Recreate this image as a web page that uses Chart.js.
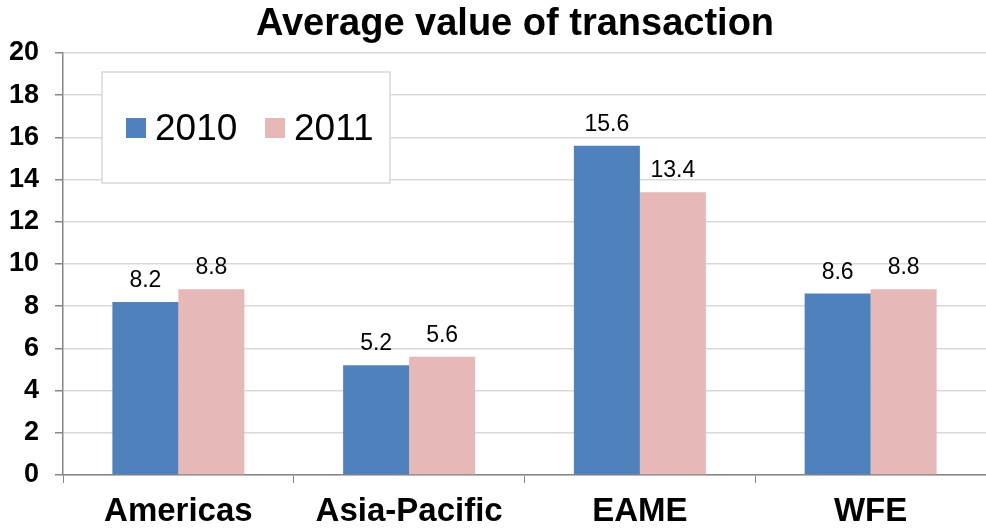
<!DOCTYPE html>
<html>
<head>
<meta charset="utf-8">
<script src="https://cdn.jsdelivr.net/npm/chart.js@4/dist/chart.umd.min.js"></script>
<style>
  html, body { margin: 0; padding: 0; background: #fff; }
  #wrap { width: 986px; height: 528px; position: relative; }
</style>
</head>
<body>
<div id="wrap"><canvas id="c"></canvas></div>
<script>
const categories = ["Americas", "Asia-Pacific", "EAME", "WFE"];
const values2010 = [8.2, 5.2, 15.6, 8.6];
const values2011 = [8.8, 5.6, 13.4, 8.8];
const seriesNames = ["2010", "2011"];
const yTicks = [0, 2, 4, 6, 8, 10, 12, 14, 16, 18, 20];

const FONT = "'Liberation Sans', Arial, sans-serif";

// labels above each bar
const barLabels = {
  id: "barLabels",
  afterDatasetsDraw(chart) {
    const ctx = chart.ctx;
    ctx.save();
    ctx.font = "23px " + FONT;
    ctx.fillStyle = "#000";
    ctx.textAlign = "center";
    ctx.textBaseline = "alphabetic";
    chart.data.datasets.forEach((ds, i) => {
      chart.getDatasetMeta(i).data.forEach((bar, j) => {
        ctx.fillText(ds.data[j].toFixed(1), bar.x, bar.y - 15);
      });
    });
    ctx.restore();
  }
};

// title + boxed legend, drawn by hand
const extras = {
  id: "extras",
  afterDraw(chart) {
    const ctx = chart.ctx;
    ctx.save();
    ctx.font = "bold 38px " + FONT;
    ctx.fillStyle = "#000";
    ctx.textAlign = "center";
    ctx.textBaseline = "alphabetic";
    ctx.fillText("Average value of transaction", 515, 35);

    ctx.fillStyle = "#fff";
    ctx.fillRect(102, 72, 288, 111);
    ctx.strokeStyle = "#d9d9d9";
    ctx.lineWidth = 1.5;
    ctx.strokeRect(102, 72, 288, 111);

    const xs = [126, 265];
    ctx.font = "37px " + FONT;
    ctx.textAlign = "left";
    chart.data.datasets.forEach((ds, i) => {
      ctx.fillStyle = ds.backgroundColor;
      ctx.fillRect(xs[i], 118, 20, 20);
      ctx.fillStyle = "#000";
      ctx.fillText(ds.label, xs[i] + 29, 140);
    });
    ctx.restore();
  }
};

new Chart(document.getElementById("c"), {
  type: "bar",
  data: {
    labels: categories,
    datasets: [
      { label: seriesNames[0], data: values2010, backgroundColor: "#4F81BD" },
      { label: seriesNames[1], data: values2011, backgroundColor: "#E6B9B8" }
    ]
  },
  options: {
    responsive: true,
    maintainAspectRatio: false,
    animation: false,
    layout: { padding: { top: 53, right: 0, left: 0, bottom: 0 } },
    plugins: {
      legend: { display: false },
      title: { display: false },
      tooltip: { enabled: false }
    },
    datasets: {
      bar: { categoryPercentage: 0.572, barPercentage: 1 }
    },
    scales: {
      x: {
        grid: { drawOnChartArea: false, tickLength: 8, color: "#868686", tickColor: "#868686" },
        border: { color: "#868686", width: 1.5 },
        ticks: { color: "#000", font: { family: FONT, size: 33, weight: "bold" }, padding: 9, maxRotation: 0 },
        afterFit(scale) { scale.height = 53; }
      },
      y: {
        min: 0,
        max: 20,
        afterBuildTicks(scale) { scale.ticks = yTicks.map(v => ({ value: v })); },
        grid: { color: "#d9d9d9", tickColor: "#868686", tickLength: 8, lineWidth: 1.5 },
        border: { color: "#868686", width: 1.5 },
        ticks: { color: "#000", font: { family: FONT, size: 27, weight: "bold" }, padding: 16 },
        afterFit(scale) { scale.width = 63; }
      }
    }
  },
  plugins: [barLabels, extras]
});
</script>
</body>
</html>
